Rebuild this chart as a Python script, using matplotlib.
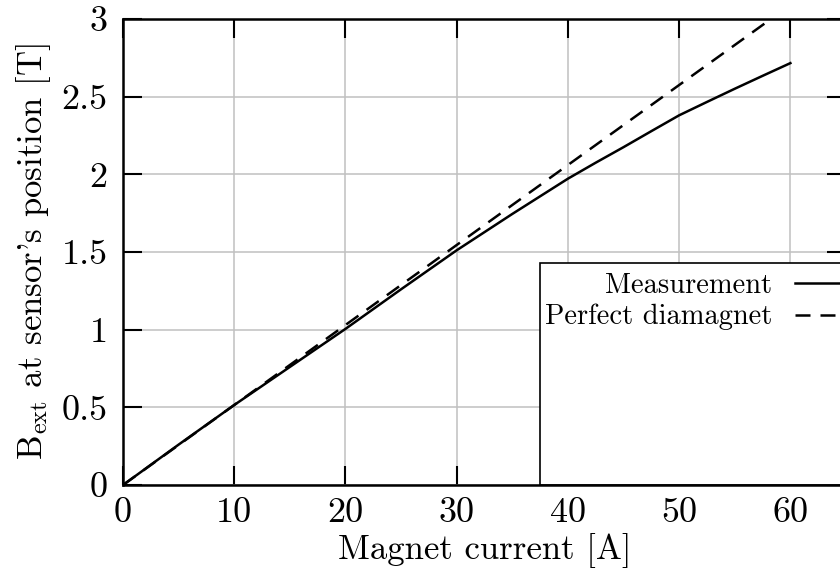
import matplotlib
matplotlib.use('Agg')
import matplotlib.pyplot as plt
from matplotlib.patches import Rectangle

# measured field vs. magnet current
current = [0, 5, 10, 15, 20, 25, 30, 35, 40, 42.5, 45, 47.5, 50, 52.5, 55, 57.5, 60]
b_meas = [0, 0.26, 0.515, 0.76, 1.005, 1.26, 1.511, 1.745, 1.972, 2.075, 2.175,
          2.278, 2.38, 2.466, 2.551, 2.634, 2.716]

# ideal diamagnet (linear)
current_ideal = [0, 60]
b_ideal = [0, 3.09]

x_ticks = [0, 10, 20, 30, 40, 50, 60]
y_ticks = [0, 0.5, 1, 1.5, 2, 2.5, 3]
y_tick_labels = ['0', '0.5', '1', '1.5', '2', '2.5', '3']

plt.rcParams['font.family'] = 'cmr10'
plt.rcParams['mathtext.fontset'] = 'cm'
plt.rcParams['axes.unicode_minus'] = False

fig = plt.figure(figsize=(8.4, 5.72), dpi=100)
ax = fig.add_axes([123/840, 1 - 485/572, 723/840, 466/572])

l_meas, = ax.plot(current, b_meas, 'k-', lw=1.8, label='Measurement', zorder=3)
l_ideal, = ax.plot(current_ideal, b_ideal, 'k', ls=(0, (6, 4)), lw=1.8,
                   label='Perfect diamagnet', zorder=3)

ax.set_xlim(0, 65)
ax.set_ylim(0, 3)
ax.set_xticks(x_ticks)
ax.set_yticks(y_ticks, y_tick_labels)
ax.tick_params(direction='in', length=14, width=1.5, labelsize=26, top=True, right=True)
ax.tick_params(axis='y', pad=11)
ax.tick_params(axis='x', pad=9)
for s in ax.spines.values():
    s.set_linewidth(1.8)
    s.set_zorder(5)

ax.grid(color='#c0c0c0', lw=1.1, zorder=0)
ax.set_axisbelow(True)

ax.set_xlabel('Magnet current [A]', fontsize=25, labelpad=3)
ax.set_ylabel(r'$\mathrm{B}_{\mathrm{ext}}$ at sensor' + "'" + 's position [T]', fontsize=25, labelpad=6)

# key box like gnuplot
box = Rectangle((417/723, 0), 0.6, 222/466, transform=ax.transAxes,
                facecolor='white', edgecolor='black', lw=1.2, zorder=2, clip_on=False)
ax.add_patch(box)

# one legend per entry so the samples line up on the right
key_opts = dict(loc='upper right', bbox_transform=fig.transFigure, frameon=False,
                markerfirst=False, fontsize=20.5, handlelength=2.6, handletextpad=0.8,
                borderpad=0, borderaxespad=0)
leg1 = ax.legend(handles=[l_meas], bbox_to_anchor=(869/840, 1 - 273/572), **key_opts)
leg1.set_zorder(4)
ax.add_artist(leg1)
leg2 = ax.legend(handles=[l_ideal], bbox_to_anchor=(869/840, 1 - 304/572), **key_opts)
leg2.set_zorder(4)

fig.savefig('out.png', dpi=100)
